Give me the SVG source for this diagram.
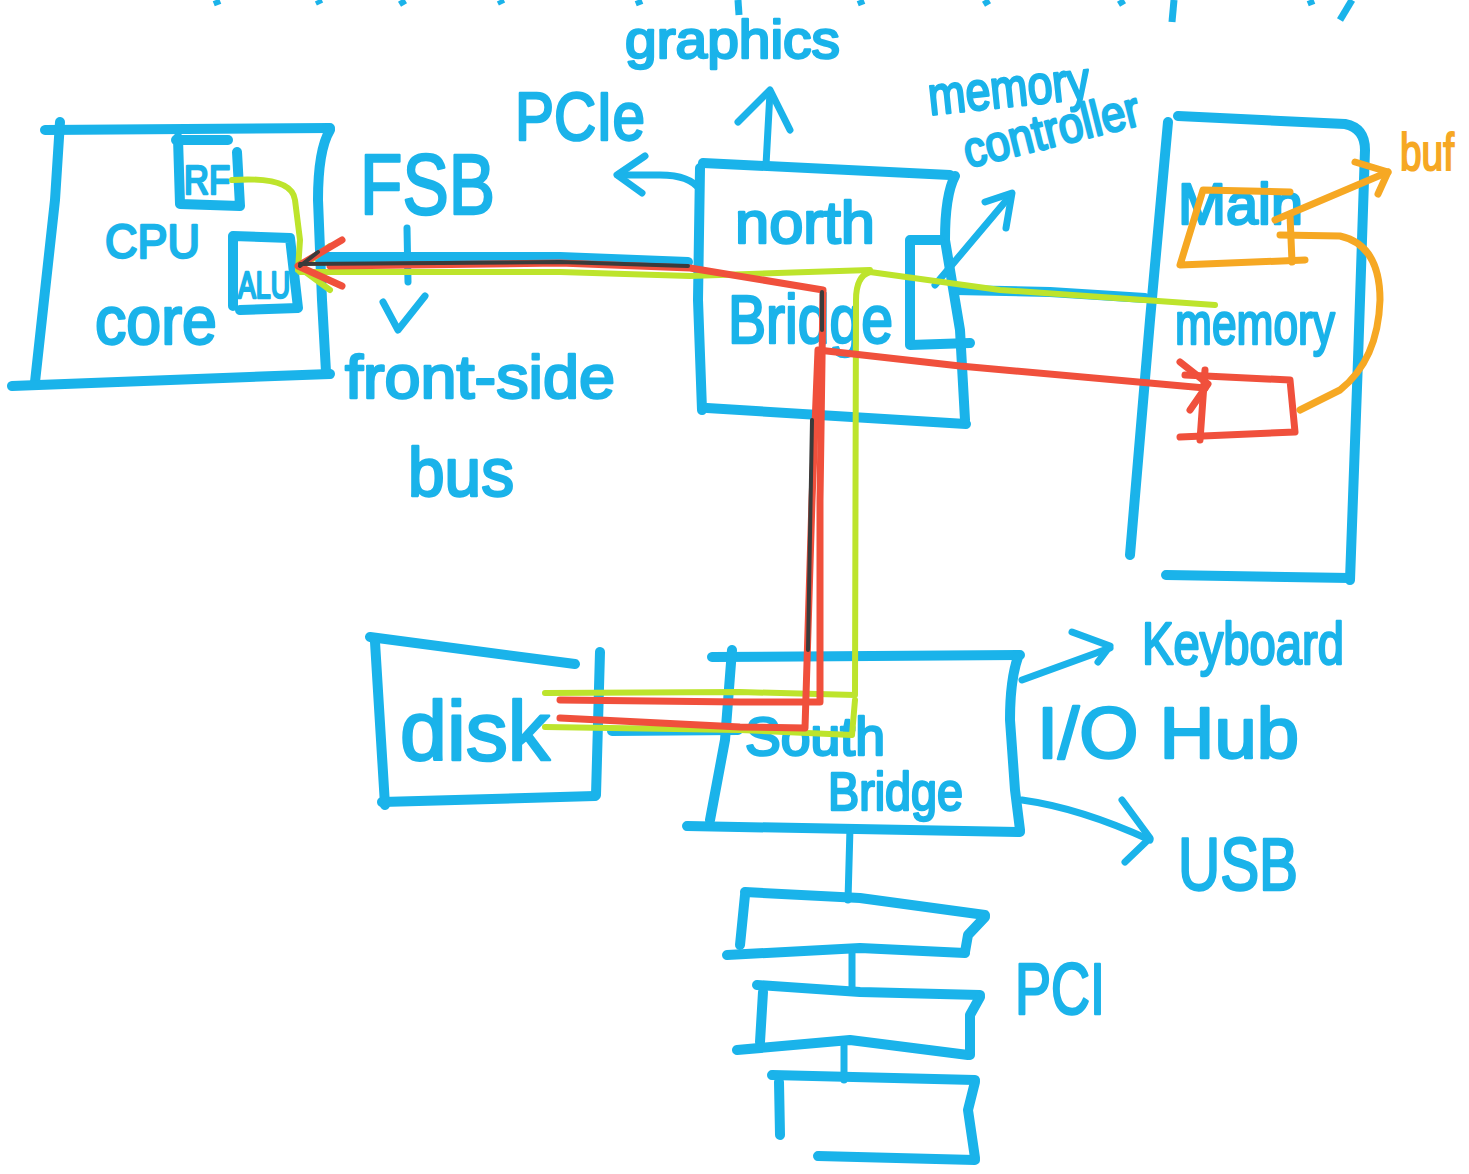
<svg xmlns="http://www.w3.org/2000/svg" width="1469" height="1174" viewBox="0 0 1469 1174">
  <style>
    .ink { fill: none; stroke: #1ab3ea; stroke-width: 10; stroke-linecap: round; stroke-linejoin: round; }
    .thin { fill: none; stroke: #1ab3ea; stroke-width: 7; stroke-linecap: round; stroke-linejoin: round; }
    .frag { fill: none; stroke: #1ab3ea; stroke-width: 7; stroke-linecap: butt; }
    .lbl { font-family: "Liberation Sans", "DejaVu Sans", sans-serif; fill: #1ab3ea; stroke: #1ab3ea; stroke-width: 2.5; stroke-linejoin: round; }
    .red { fill: none; stroke: #f0503c; stroke-width: 7; stroke-linecap: round; stroke-linejoin: round; }
    .grn { fill: none; stroke: #bde42c; stroke-width: 6; stroke-linecap: round; stroke-linejoin: round; }
    .drk { fill: none; stroke: #3b3b3b; stroke-width: 4; stroke-linecap: round; stroke-linejoin: round; }
    .org { fill: none; stroke: #f6a823; stroke-width: 7; stroke-linecap: round; stroke-linejoin: round; }
    .orglbl { font-family: "Liberation Sans", "DejaVu Sans", sans-serif; fill: #f6a823; stroke: #f6a823; stroke-width: 2; }
  </style>
  <rect width="1469" height="1174" fill="#ffffff"/>

  <!-- strokes of a line of writing running off the top edge -->
  <g id="top-fragments" class="frag">
    <path d="M216,0 L218,5"/>
    <path d="M318,0 L320,4"/>
    <path d="M401,0 L404,5"/>
    <path d="M500,0 L502,4"/>
    <path d="M638,0 L640,5"/>
    <path d="M738,0 L739,15"/>
    <path d="M860,0 L862,5"/>
    <path d="M985,0 L988,5"/>
    <path d="M1120,0 L1123,5"/>
    <path d="M1174,0 L1172,22"/>
    <path d="M1310,0 L1312,5"/>
    <path d="M1352,0 L1340,20"/>
  </g>

  <!-- CPU -->
  <g id="cpu">
    <path class="ink" d="M45,130 L330,128"/>
    <path class="ink" d="M60,122 L55,200 L35,382"/>
    <path class="ink" d="M12,386 L330,374"/>
    <path class="ink" d="M330,130 Q318,150 318,200 L322,300 L326,372"/>
    <text class="lbl" x="105" y="258" font-size="48" textLength="95" lengthAdjust="spacingAndGlyphs">CPU</text>
    <text class="lbl" x="95" y="344" font-size="68" textLength="122" lengthAdjust="spacingAndGlyphs">core</text>
  </g>
  <g id="rf">
    <path class="ink" d="M178,138 L180,204 L240,206 L237,152"/>
    <path class="ink" d="M176,140 L228,140"/>
    <text class="lbl" x="184" y="194" font-size="40" textLength="46" lengthAdjust="spacingAndGlyphs">RF</text>
  </g>
  <g id="alu">
    <path class="ink" d="M233,306 L233,236 L290,238 L298,308 L240,310"/>
    <text class="lbl" x="238" y="298" font-size="36" textLength="52" lengthAdjust="spacingAndGlyphs">ALU</text>
  </g>

  <!-- front-side bus labels -->
  <g id="fsb-label">
    <text class="lbl" x="360" y="214" font-size="86" textLength="135" lengthAdjust="spacingAndGlyphs">FSB</text>
    <path class="thin" d="M407,228 L408,282"/>
    <path class="thin" d="M383,302 L398,330 L425,296"/>
    <text class="lbl" x="345" y="398" font-size="62" textLength="270" lengthAdjust="spacingAndGlyphs">front-side</text>
    <text class="lbl" x="408" y="496" font-size="68" textLength="106" lengthAdjust="spacingAndGlyphs">bus</text>
  </g>

  <!-- North bridge -->
  <g id="north-bridge">
    <path class="ink" d="M703,163 L950,175"/>
    <path class="ink" d="M700,168 L698,300 L702,410"/>
    <path class="ink" d="M707,408 L966,424"/>
    <path class="ink" d="M955,176 Q945,195 945,240 L960,330 L965,420"/>
    <text class="lbl" x="735" y="243" font-size="60" textLength="140" lengthAdjust="spacingAndGlyphs">north</text>
    <text class="lbl" x="728" y="343" font-size="68" textLength="165" lengthAdjust="spacingAndGlyphs">Bridge</text>
  </g>
  <g id="memory-controller">
    <path class="ink" d="M940,240 L910,240 L910,345 L970,343"/>
    <text class="lbl" x="930" y="115" font-size="54" textLength="162" lengthAdjust="spacingAndGlyphs" transform="rotate(-6 930 115)">memory</text>
    <text class="lbl" x="968" y="168" font-size="50" textLength="180" lengthAdjust="spacingAndGlyphs" transform="rotate(-14 968 168)">controller</text>
  </g>
  <g id="graphics">
    <text class="lbl" x="625" y="58" font-size="54" textLength="215" lengthAdjust="spacingAndGlyphs">graphics</text>
  </g>
  <g id="pcie">
    <text class="lbl" x="515" y="140" font-size="68" textLength="130" lengthAdjust="spacingAndGlyphs">PCIe</text>
  </g>

  <!-- Main memory -->
  <g id="main-memory">
    <path class="ink" d="M1168,122 L1150,320 L1130,555"/>
    <path class="ink" d="M1178,116 L1345,124 Q1365,128 1365,150 L1358,360 L1350,580"/>
    <path class="ink" d="M1166,575 L1350,578"/>
    <text class="lbl" x="1178" y="224" font-size="58" textLength="125" lengthAdjust="spacingAndGlyphs">Main</text>
    <text class="lbl" x="1175" y="344" font-size="60" textLength="160" lengthAdjust="spacingAndGlyphs">memory</text>
  </g>
  <g id="buffer">
    <path class="org" d="M1290,192 L1203,190 L1180,265 L1305,260"/>
    <path class="org" d="M1290,215 L1292,262"/>
    <path class="org" d="M1275,220 L1388,172"/>
    <path class="org" d="M1355,162 L1388,172 L1378,194"/>
    <path class="org" d="M1280,235 L1340,236 Q1380,245 1380,300 Q1378,360 1340,390 L1300,410"/>
    <text class="orglbl" x="1400" y="170" font-size="52" textLength="54" lengthAdjust="spacingAndGlyphs">buf</text>
  </g>
  <g id="row-buffer">
    <path class="red" d="M1185,375 L1290,380 L1295,432 L1180,437"/>
    <path class="red" d="M1205,370 L1200,440"/>
  </g>

  <!-- disk -->
  <g id="disk">
    <path class="ink" d="M370,637 L575,664"/>
    <path class="ink" d="M375,642 L385,805"/>
    <path class="ink" d="M382,802 L595,796"/>
    <path class="ink" d="M600,652 L596,795"/>
    <text class="lbl" x="400" y="760" font-size="84" textLength="150" lengthAdjust="spacingAndGlyphs">disk</text>
  </g>

  <!-- South bridge / I/O hub -->
  <g id="south-bridge">
    <path class="ink" d="M712,657 L1020,655"/>
    <path class="ink" d="M732,650 L725,740 L710,820"/>
    <path class="ink" d="M687,826 L1020,832"/>
    <path class="ink" d="M1018,657 Q1010,680 1010,720 L1015,790 L1020,830"/>
    <text class="lbl" x="745" y="755" font-size="54" textLength="140" lengthAdjust="spacingAndGlyphs">South</text>
    <text class="lbl" x="828" y="810" font-size="54" textLength="135" lengthAdjust="spacingAndGlyphs">Bridge</text>
    <text class="lbl" x="1037" y="758" font-size="72" textLength="262" lengthAdjust="spacingAndGlyphs">I/O Hub</text>
  </g>
  <g id="keyboard">
    <text class="lbl" x="1142" y="664" font-size="60" textLength="202" lengthAdjust="spacingAndGlyphs">Keyboard</text>
  </g>
  <g id="usb">
    <text class="lbl" x="1178" y="890" font-size="74" textLength="120" lengthAdjust="spacingAndGlyphs">USB</text>
  </g>

  <!-- PCI slots -->
  <g id="pci">
    <path class="ink" d="M745,892 L860,898 L985,915"/>
    <path class="ink" d="M745,895 L740,945"/>
    <path class="ink" d="M727,955 L860,948 L965,953"/>
    <path class="ink" d="M985,917 L968,935 L965,952"/>
    <path class="ink" d="M757,985 L860,992 L980,995"/>
    <path class="ink" d="M763,992 L760,1042"/>
    <path class="ink" d="M737,1050 L850,1040 L968,1055"/>
    <path class="ink" d="M980,997 L970,1015 L970,1055"/>
    <path class="ink" d="M772,1075 L975,1080"/>
    <path class="ink" d="M779,1082 L780,1135"/>
    <path class="ink" d="M975,1082 L968,1110 L975,1158"/>
    <path class="ink" d="M818,1156 L975,1160"/>
    <text class="lbl" x="1015" y="1014" font-size="72" textLength="90" lengthAdjust="spacingAndGlyphs">PCI</text>
  </g>

  <!-- connectors -->
  <g id="connectors">
    <!-- blue bus wiring -->
    <path class="ink" d="M318,257 L560,257 L688,262"/>
    <path class="ink" d="M955,290 L1050,292 L1145,298"/>
    <path class="ink" d="M612,731 L738,730"/>
    <path class="thin" d="M850,828 L848,900"/>
    <path class="thin" d="M852,950 L852,988"/>
    <path class="thin" d="M844,1045 L844,1080"/>
    <!-- graphics / PCIe arrows -->
    <path class="thin" d="M766,165 L770,92"/>
    <path class="thin" d="M738,122 L770,90 L790,130"/>
    <path class="thin" d="M700,190 Q690,175 660,175 L618,175"/>
    <path class="thin" d="M645,156 L617,175 L642,193"/>
    <!-- memory controller arrow -->
    <path class="thin" d="M935,285 L1010,196"/>
    <path class="thin" d="M985,202 L1012,193 L1006,228"/>
    <!-- I/O hub arrows -->
    <path class="thin" d="M1022,680 L1110,648"/>
    <path class="thin" d="M1072,632 L1110,646 L1098,662"/>
    <path class="thin" d="M1022,800 Q1080,808 1150,840"/>
    <path class="thin" d="M1122,800 L1150,838 L1125,862"/>

    <!-- green data path -->
    <path class="grn" d="M232,180 Q292,176 295,200 L300,240 L298,270"/>
    <path class="grn" d="M300,272 L560,272 L690,276 L870,270"/>
    <path class="grn" d="M330,246 L300,268 L330,290"/>
    <path class="grn" d="M870,272 Q856,276 856,300 L855,695 L740,692 L545,693"/>
    <path class="grn" d="M855,700 L852,735 L740,730 L545,727"/>
    <path class="grn" d="M870,272 L1000,290 L1215,305"/>

    <!-- red data path -->
    <path class="red" d="M330,266 L560,263 L690,268 L823,290 L820,500 L820,702 L740,702 L560,700"/>
    <path class="red" d="M342,240 L298,266 L342,286"/>
    <path class="red" d="M1205,388 L960,366 L818,350 L812,500 L805,728 L740,727 L560,718"/>
    <path class="red" d="M1180,362 L1208,384 L1190,410"/>

    <!-- dark overlaps -->
    <path class="drk" d="M300,264 L560,262 L688,266"/>
    <path class="drk" d="M822,292 L822,330"/>
    <path class="drk" d="M812,420 L808,650"/>
    <path class="drk" d="M300,266 L318,252"/>
  </g>
</svg>
